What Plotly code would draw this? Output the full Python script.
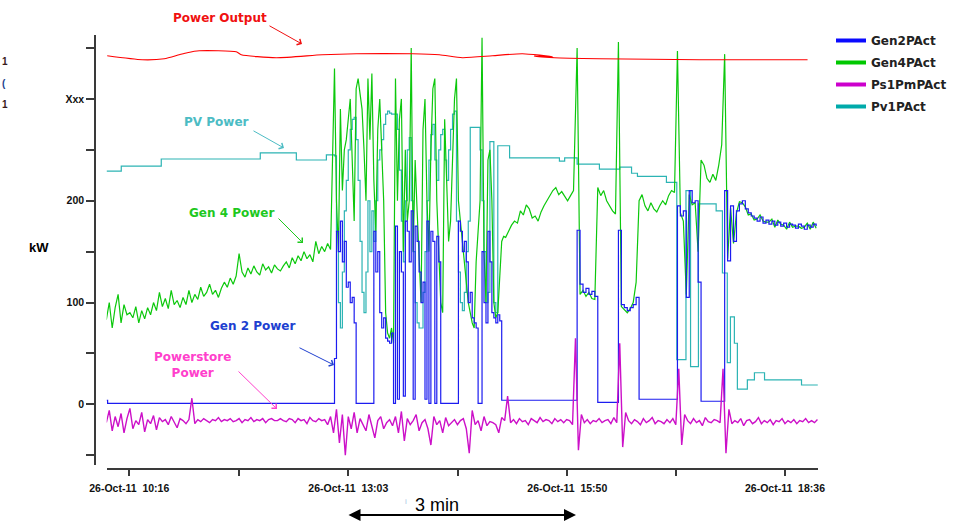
import plotly.graph_objects as go

# ---------------- data ----------------
# time axis: minutes after 26-Oct-11 10:16
x_tick_minutes = [0, 83.5, 167, 250.5, 334, 417, 500]
x_tick_labels = ["26-Oct-11\u00a0 10:16", "", "26-Oct-11\u00a0 13:03", "",
                 "26-Oct-11\u00a0 15:50", "", "26-Oct-11\u00a0 18:36"]
y_tick_values = [-50, 0, 50, 100, 150, 200, 250, 300, 350]
y_tick_labels = ["", "0", "", "100", "", "200", "", "Xxx", ""]

# Power output (hand-drawn red line)
power_output_t = [-16.8, 9.9, 26.7, 38.1, 44.2, 53.4, 81.6, 85.4, 112.1, 147.2, 173.2, 215.9,
                  236.5, 254.0, 276.9, 299.8, 322.7, 308.9, 324.2, 358.5, 434.8, 517.2]
power_output_kw = [342.4, 338.5, 339.5, 343.4, 345.4, 347.3, 346.3, 343.4, 340.5, 343.4, 344.4, 344.4,
                   343.4, 340.5, 342.4, 344.4, 341.5, 342.0, 340.5, 339.5, 338.5, 338.5]

# Pv1PAct
pv_start_t = [-17.5, -6.1, 24.4, 99.9, 127.4, 150.3, 155.0]
pv_start_kw = [229, 234, 241, 247, 240, 245, 245]
pv_burst_kw = [244, 170, 100, 75, 130, 190, 220, 250, 270, 280, 282,
               260, 220, 160, 110, 90, 130, 200, 150, 190, 160,
               200, 240, 250, 260, 275, 285, 288, 286, 285, 285,
               285, 270, 230, 180, 140, 200, 250, 262, 200, 150,
               100, 80, 75, 75, 110, 150, 200, 240, 265, 275,
               240, 220, 250, 265, 270, 240, 220, 250, 270, 285,
               288, 180, 130, 100, 92, 110, 150, 180, 272, 272,
               272, 272, 272, 250, 200, 150, 100, 110, 258, 258,
               100, 90, 254, 254, 254, 254]
pv_end_t = [286, 290, 328, 332, 341.5, 358.5, 374, 383, 387.5, 409.6, 417.5, 424.5, 428, 434,
            447.5, 452.3, 456, 458.4, 461.4, 463.7, 471.3, 476.7, 484.4, 512.6, 525]
pv_end_kw = [254, 242, 239, 242, 236, 231, 233, 227, 224, 218, 44, 210, 37, 197,
             190, 129, 41, 86, 60, 15, 24, 31, 24, 19, 19]

# Gen2PAct
gen2_start_t = [-17.5, -16.5, 155.9]
gen2_start_kw = [4, 1, 1]
gen2_burst_kw = [45, 170, 150, 180, 140, 160, 115, 120, 100, 105, 80,
                 1, 1, 1, 1, 1, 1, 1, 1, 1,
                 170, 130, 150, 90, 75, 85, 65, 62, 60, 70,
                 1, 175, 5, 150, 130, 8, 180, 170, 140, 190,
                 5, 175, 160, 130, 100, 120, 5, 180,
                 1, 170, 160, 1, 165, 140,
                 1, 1, 1, 1, 1, 1, 1, 1, 1,
                 180, 170, 150, 160, 140, 100, 110, 85, 80, 75,
                 1, 1, 150, 100, 80, 170, 140, 90, 85, 80, 88, 82, 4, 4]
gen2_mid_t = [286.5, 340.5]
gen2_mid_kw = [4, 4]
gen2_end_kw = [171, 118, 110, 114, 108, 111, 106,
               2, 2, 2, 2, 2, 2, 2,
               171, 98, 95, 92, 95, 98, 105,
               5, 5, 5, 5, 5, 5, 5, 5, 5, 5, 5, 5, 5,
               195, 185, 190, 105, 210, 198, 200, 120,
               3, 3, 3, 3, 3, 3, 3, 3,
               210, 141, 195, 160, 190, 197, 200, 192, 188, 185, 183,
               180, 184, 178, 181, 177, 180, 176, 179, 175, 178, 174,
               177, 176, 173, 177, 175, 172, 176, 174, 177, 175]

# Gen4PAct
gen4_start_kw = [83, 100, 75, 95, 108, 80, 98, 88,
                 90, 85, 96, 80, 92, 84, 95, 88,
                 100, 92, 110, 96, 104, 94, 112, 98, 102, 95,
                 105, 98, 112, 100, 108, 103, 115, 106,
                 110, 118, 108, 112, 105, 114,
                 120, 115, 124, 118, 126, 148,
                 130, 125, 134, 128, 136, 130, 127, 138, 132, 135, 129, 137, 133, 131, 136,
                 140, 134, 144, 138, 146, 141, 150, 143, 147, 140, 160, 148, 155, 150, 158, 152]
gen4_burst_kw = [330, 200, 150, 290, 210, 250, 260, 280, 300, 240, 180,
                 310, 320, 305, 290, 250, 200, 320, 260, 325, 220,
                 170, 270, 300, 250, 200, 90, 70, 65, 75, 60,
                 320, 200, 280, 300, 150, 250, 180, 200, 350, 150,
                 240, 190, 140, 100, 270, 300, 200, 150, 250, 310,
                 320, 200, 150, 100, 90, 280, 220, 160, 180, 240,
                 300, 320, 200, 180, 160, 140, 120, 100, 90, 80,
                 75, 140, 170, 200, 360, 150, 100, 240, 250, 200,
                 100, 85, 90, 130, 160, 165]
gen4_mid_kw = [164, 170, 176, 180, 178, 190, 186, 196, 192, 183, 185, 180,
               189, 195, 200, 205, 210, 213, 206, 209, 204, 200, 205, 210]
gen4_end_kw = [350, 108, 112, 106, 110, 104, 103,
               213, 205, 210, 200, 195, 190, 187,
               356, 96, 93, 90, 94, 100, 120,
               200, 206, 195, 190, 198, 192, 189, 195, 200, 196, 205, 210, 208,
               347, 188, 180, 108, 206, 196, 198, 150,
               240, 235, 222, 218, 226, 220, 235, 255,
               344, 143, 193, 158, 188, 199, 198, 194, 186, 187, 181,
               182, 186, 180, 179, 179, 182, 174, 181, 177, 176, 172,
               179, 174, 175, 175, 173, 174, 178, 172, 179, 173]

# Ps1PmPAct
ps1_kw = [-18, -6, -26, -12, -22, -9, -28, -14, -4, -24, -16, -20, -8, -27, -15, -19, -11, -25, -13, -17,
          -15, -20, -12, -17, -23, -14, -16, -19, -15, 6, -19, -15, -17, -14, -16, -18, -15, -16, -13, -17,
          -15, -16, -14, -17, -16, -14, -18, -15, -16, -13, -17, -15, -16, -14, -18, -15, -14, -16, -16, -14,
          -16, -17, -14, -15, -18, -14, -16, -15, -19, -13, -16, -17, -14, -16, -15, -20, -12,
          -28, -5, -38, -10, -50, -12, -24, -8, -28, -14, -20, -26, -10, -21, -33, -16, -12, -24, -18, -15,
          -21, -12, -28, -7, -36, -14, -20, -16, -10, -26, -18, -15, -24, -40, -12, -20, -16, -28, -13, -21,
          -18, -15, -20, -16, -14, -24, -48, -6, -20, -16, -26, -12, -21, -17, -18, -20, -28, -13,
          -16, 8, -18, -15, -19, -14, -17, -16, -20, -14, -16, -18, -13, -17, -15, -16, -19, -14, -17, -15,
          -18, -15, -16, -20,
          65, -45, -10, -18, -15, -19, -16, -17, -14, -18, -16, -15, -19, -13, -18,
          60, -42, -8, -16, -19, -15, -17, -20, -14, -18, -16, -13, -19, -16, -17, -19, -15, -18, -14, -20,
          35, -40, -10, -16, -19, -14, -18, -16, -21, -13, -17, -18, -15, -16, -18,
          35, -48, -5, -19, -16, -18, -14, -21, -16, -15, -19, -17, -13, -19, -16, -18, -15, -20, -16, -17,
          -14, -19, -16, -18, -15, -19, -16, -17, -14, -18, -16, -18, -15]


def sample_times(t0, step, values):
    return [t0 + step * i for i in range(len(values))]


W, H = 961, 527


def px(xp):
    return xp / W


def py(yp):
    return 1 - yp / H


gen4_t = (sample_times(-17.5, 2.25, gen4_start_kw) + sample_times(156.5, 1.5, gen4_burst_kw)
          + sample_times(287, 2.25, gen4_mid_kw) + sample_times(341.5, 2.25, gen4_end_kw))
gen4_v = gen4_start_kw + gen4_burst_kw + gen4_mid_kw + gen4_end_kw

gen2_t = gen2_start_t + sample_times(156.5, 1.5, gen2_burst_kw) + gen2_mid_t + sample_times(341.5, 2.25, gen2_end_kw)
gen2_v = gen2_start_kw + gen2_burst_kw + gen2_mid_kw + gen2_end_kw

pv_t = pv_start_t + sample_times(156.5, 1.5, pv_burst_kw) + pv_end_t
pv_v = pv_start_kw + pv_burst_kw + pv_end_kw

ps1_t = sample_times(-17.5, 2.25, ps1_kw)

BLUE = "#1c1cf0"
GREEN = "#0cc80c"
MAGENTA = "#cc10c8"
TEAL = "#2cb4b4"
RED = "#ff0000"

fig = go.Figure()

# legend entries (thick lines)
for name, col in [("Gen2PAct", "#0a0aff"), ("Gen4PAct", "#00c800"),
                  ("Ps1PmPAct", "#cc00cc"), ("Pv1PAct", "#00aaaa")]:
    fig.add_trace(go.Scatter(x=[None], y=[None], mode="lines", name=name, legendgroup=name,
                             line=dict(color=col, width=4)))

fig.add_trace(go.Scatter(x=pv_t, y=pv_v, mode="lines", line=dict(color=TEAL, width=1.2, shape="hv"),
                         showlegend=False, hoverinfo="skip"))
fig.add_trace(go.Scatter(x=gen4_t, y=gen4_v, mode="lines", line=dict(color=GREEN, width=1.2),
                         showlegend=False, hoverinfo="skip"))
fig.add_trace(go.Scatter(x=gen2_t, y=gen2_v, mode="lines", line=dict(color=BLUE, width=1.2, shape="hv"),
                         showlegend=False, hoverinfo="skip"))
fig.add_trace(go.Scatter(x=ps1_t, y=ps1_kw, mode="lines", line=dict(color=MAGENTA, width=1.4),
                         showlegend=False, hoverinfo="skip"))
fig.add_trace(go.Scatter(x=power_output_t, y=power_output_kw, mode="lines",
                         line=dict(color=RED, width=1.1, shape="spline", smoothing=0.6),
                         showlegend=False, hoverinfo="skip"))

axis_col = "#3a3a3a"
fig.update_layout(
    template="none",
    width=W, height=H,
    margin=dict(l=0, r=0, t=0, b=0, autoexpand=False),
    paper_bgcolor="white", plot_bgcolor="white",
    hovermode=False,
    xaxis=dict(domain=[px(106.7), px(818.3)], range=[-17.2, 525.4], anchor="free", position=py(469),
               automargin=False,
               showline=True, linecolor=axis_col, linewidth=1.5, ticks="outside", ticklen=6, tickwidth=1.5,
               tickcolor=axis_col, tickvals=x_tick_minutes, ticktext=x_tick_labels,
               tickfont=dict(family="Arial", size=10.5, color="#111", weight="bold"),
               showgrid=False, zeroline=False, ticklabelstandoff=4),
    yaxis=dict(domain=[py(465), py(35)], range=[-59.6, 362.8], anchor="free", position=px(95),
               automargin=False,
               showline=True, linecolor=axis_col, linewidth=1.5, ticks="outside", ticklen=8, tickwidth=1.5,
               tickcolor=axis_col, tickvals=y_tick_values, ticktext=y_tick_labels,
               tickfont=dict(family="Arial", size=10.5, color="#111", weight="bold"),
               showgrid=False, zeroline=False),
    legend=dict(x=px(831), y=py(26), xanchor="left", yanchor="top", bgcolor="rgba(0,0,0,0)",
                font=dict(family="DejaVu Sans", size=12, color="#222", weight="bold"),
                itemwidth=30, tracegroupgap=3),
)

ann_font = "DejaVu Sans"
labels = [
    ("Power Output", 220, 18, "#f01010"),
    ("PV Power", 216, 122, "#4cbcc4"),
    ("Gen 4 Power", 232, 213, "#1ec81e"),
    ("Gen 2 Power", 253, 326, "#2040d0"),
    ("Powerstore<br>Power", 192, 365, "#ff40cc"),
]
for text, xc, yc, col in labels:
    fig.add_annotation(text=text, x=px(xc), y=py(yc), xref="paper", yref="paper", showarrow=False,
                       xanchor="center", yanchor="middle",
                       font=dict(family=ann_font, size=12, color=col, weight="bold"))

arrows = [
    (268, 25, 302, 44, "#f01010"),
    (252, 130, 284, 148, "#4cbcc4"),
    (277, 217, 303, 243, "#1ec81e"),
    (298, 347, 334, 365, "#2040d0"),
    (237, 370, 277, 409, "#ff40cc"),
]
for tx, ty, hx, hy, col in arrows:
    fig.add_annotation(text="", x=px(hx), y=py(hy), xref="paper", yref="paper", showarrow=True,
                       ax=tx - hx, ay=ty - hy, arrowhead=4, arrowsize=1.3, arrowwidth=1, arrowcolor=col)

# 3 min double arrow
fig.add_annotation(text="", x=px(576), y=py(515), xref="paper", yref="paper", showarrow=True,
                   ax=347 - 576, ay=0, arrowhead=2, arrowsize=1.2, arrowwidth=2, arrowcolor="black",
                   arrowside="end+start")
fig.add_annotation(text="3 min", x=px(437), y=py(505), xref="paper", yref="paper", showarrow=False,
                   yanchor="middle", font=dict(family="Arial", size=18, color="black"))
fig.add_annotation(text="i", x=px(406), y=py(501), xref="paper", yref="paper", showarrow=False,
                   yanchor="middle", font=dict(family="Arial", size=8, color="#a8c4e4"))

fig.add_annotation(text="kW", x=px(27), y=py(247), xref="paper", yref="paper", showarrow=False,
                   font=dict(family="Arial", size=13, color="black", weight="bold"))

# clipped fragments at the left edge
for t, yy, col in [("1", 54, "#3a1a1a"), ("(", 76, "#1f3f8f"), ("1", 97, "#3a1a1a")]:
    fig.add_annotation(text=t, x=0, y=py(yy), xref="paper", yref="paper", showarrow=False,
                       xanchor="left", font=dict(family="Arial", size=10, color=col, weight="bold"))

fig.write_html("out.html", config={"displayModeBar": False},
               post_script="document.body.style.margin='0';")
